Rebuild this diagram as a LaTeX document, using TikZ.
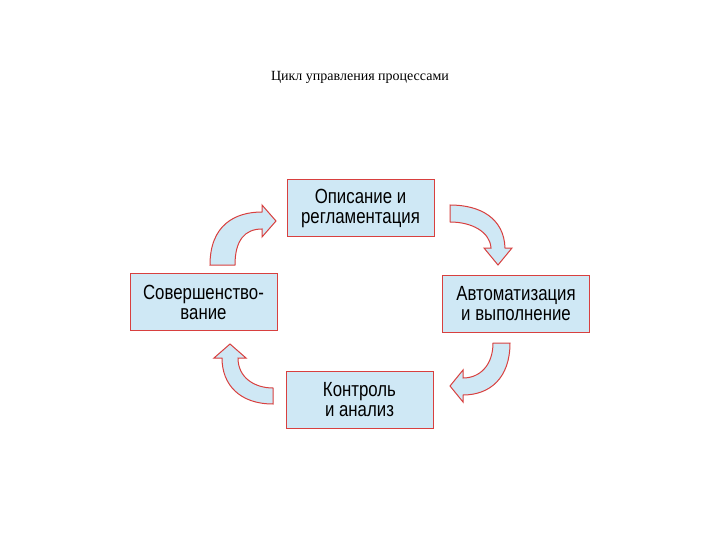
\documentclass[tikz,border=0pt]{standalone}
\usepackage{fontspec}
\setmainfont{Liberation Serif}
\newfontfamily\boxfont[FakeStretch=0.82]{Liberation Sans}
\definecolor{bfill}{HTML}{CFE8F5}
\definecolor{bred}{HTML}{D8403F}
\begin{document}
\begin{tikzpicture}[x=1pt,y=-1pt,
  box/.style={draw=bred,fill=bfill,line width=1pt,minimum width=147pt,minimum height=57pt,align=center,font=\boxfont\fontsize{20.5}{20}\selectfont},
  carrow/.style={draw=bred,fill=bfill,line width=1pt,line join=miter}]
\useasboundingbox (0,0) rectangle (720,540);
\node (title) at (360,77) {\fontsize{14}{16}\selectfont Цикл управления процессами};
\node[box] (top) at (360.5,208) {Описание и\\регламентация};
\node[box] (right) at (516,303.5) {Автоматизация\\и выполнение};
\node[box] (bottom) at (359.5,399.5) {Контроль\\и анализ};
\node[box] (left) at (203.5,302) {Совершенство-\\вание};
\draw[carrow] (210,265) .. controls (210,225) and (235,212) .. (262,212) -- (262,205) -- (276,221) -- (262,237) -- (262,229) .. controls (245,229) and (235,240) .. (235,265) -- cycle;
\draw[carrow] (450,205) .. controls (480,205) and (504,218) .. (505,248) -- (512,248) -- (498,265) -- (484,248) -- (491,248) .. controls (490,232) and (472,222) .. (450,222) -- cycle;
\draw[carrow] (510,343) .. controls (510,378) and (490,395) .. (463,395) -- (463,402) -- (450,386) -- (463,370) -- (463,378) .. controls (480,378) and (493,365) .. (493,343) -- cycle;
\draw[carrow] (273,404) .. controls (240,404) and (222,385) .. (222,358) -- (214,358) -- (230,344) -- (246,358) -- (238,358) .. controls (238,378) and (255,388) .. (273,388) -- cycle;
\end{tikzpicture}
\end{document}
